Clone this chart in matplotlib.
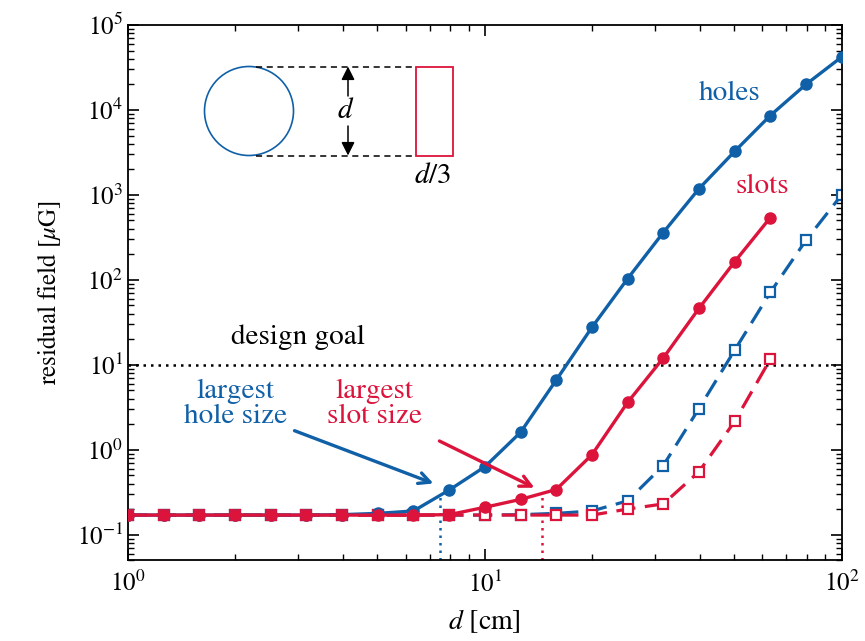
import numpy as np
import matplotlib
matplotlib.use("Agg")
import matplotlib.pyplot as plt
from matplotlib.patches import Circle, Rectangle, FancyArrowPatch
from matplotlib.lines import Line2D
from matplotlib.transforms import IdentityTransform

plt.rcParams['font.family'] = ['STIXGeneral', 'DejaVu Serif']
plt.rcParams['mathtext.fontset'] = 'stix'

BLUE = '#1060a8'
RED = '#dc143c'

d = [1.0, 1.259, 1.585, 1.995, 2.512, 3.162, 3.981, 5.012, 6.310, 7.943,
     10.0, 12.59, 15.85, 19.95, 25.12, 31.62, 39.81, 50.12, 63.10, 79.43, 100.0]

holes = [0.17, 0.17, 0.17, 0.17, 0.17, 0.17, 0.172, 0.178, 0.19, 0.335,
         0.63, 1.6, 6.6, 27.5, 103, 360, 1180, 3250, 8600, 20000, 42000]
slots = [0.17, 0.17, 0.17, 0.17, 0.17, 0.17, 0.17, 0.17, 0.17, 0.172,
         0.21, 0.26, 0.34, 0.87, 3.6, 12, 46, 163, 540]
holes_thick = [0.17, 0.17, 0.17, 0.17, 0.17, 0.17, 0.17, 0.17, 0.17, 0.17,
               0.17, 0.172, 0.178, 0.19, 0.25, 0.65, 3.05, 14.8, 71, 292, 1000]
slots_thick = [0.17, 0.17, 0.17, 0.17, 0.17, 0.17, 0.17, 0.17, 0.17, 0.17,
               0.17, 0.17, 0.17, 0.17, 0.20, 0.23, 0.55, 2.15, 11.6]

design_goal = 10
largest_hole = 7.5
largest_slot = 14.5

W, H = 865, 641
fig = plt.figure(figsize=(W / 100, H / 100), dpi=100)
ax = fig.add_axes([0.148, 0.126, 0.825, 0.835])
ax.set_xscale('log')
ax.set_yscale('log')
ax.set_xlim(1, 100)
ax.set_ylim(0.05, 1e5)

dash = (0, (6, 3))
ax.plot(d[:len(holes_thick)], holes_thick, color=BLUE, lw=2.3, linestyle=dash,
        marker='s', ms=6.5, mfc='white', mec=BLUE, mew=1.6, zorder=2)
ax.plot(d[:len(slots_thick)], slots_thick, color=RED, lw=2.3, linestyle=dash,
        marker='s', ms=6.5, mfc='white', mec=RED, mew=1.6, zorder=2.1)
ax.plot(d[:len(holes)], holes, color=BLUE, lw=2.4, marker='o', ms=8, zorder=3)
ax.plot(d[:len(slots)], slots, color=RED, lw=2.4, marker='o', ms=8, zorder=3.1)

ax.axhline(design_goal, color='black', ls=(0, (1, 2)), lw=1.8, zorder=1)
ax.text(3.0, 21, 'design goal', fontsize=21, ha='center', va='center')

ax.plot([largest_hole, largest_hole], [0.05, 0.3], color=BLUE, ls=(0, (1, 2)), lw=1.8, zorder=1)
ax.plot([largest_slot, largest_slot], [0.05, 0.3], color=RED, ls=(0, (1, 2)), lw=1.8, zorder=1)

ax.text(2.0, 3.5, 'largest\nhole size', color=BLUE, fontsize=21, ha='center',
        va='center', linespacing=1.0)
ax.text(4.92, 3.5, 'largest\nslot size', color=RED, fontsize=21, ha='center',
        va='center', linespacing=1.0)
ax.annotate('', xy=(7.3, 0.39), xytext=(2.88, 1.72),
            arrowprops=dict(arrowstyle='->,head_length=0.8,head_width=0.4',
                            color=BLUE, lw=2.4))
ax.annotate('', xy=(14.0, 0.345), xytext=(7.34, 1.31),
            arrowprops=dict(arrowstyle='->,head_length=0.8,head_width=0.4',
                            color=RED, lw=2.4))

ax.text(48.6, 15800, 'holes', color=BLUE, fontsize=21, ha='center', va='center')
ax.text(60, 1260, 'slots', color=RED, fontsize=21, ha='center', va='center')

ax.set_xlabel(r'$d$ [cm]', fontsize=20, labelpad=7)
ax.set_ylabel(r'residual field [$\mu$G]', fontsize=18, labelpad=10)
ax.tick_params(which='both', direction='in', top=True, right=True, labelsize=18)
ax.tick_params(which='major', length=8, width=1.2)
ax.tick_params(which='minor', length=4, width=1)
ax.tick_params(axis='x', pad=8)
for s in ax.spines.values():
    s.set_linewidth(1.3)

# inset schematic, in pixel coordinates measured from the top-left corner
T = IdentityTransform()
def P(x, y):
    return (x, H - y)

fig.add_artist(Circle(P(249, 111), 44.5, fill=False, ec=BLUE, lw=1.2, transform=T))
fig.add_artist(Rectangle(P(416, 155.5), 37, 89, fill=False, ec=RED, lw=1.3, transform=T))
for yy in (66.5, 155.5):
    x0, y0 = P(256, yy)
    x1, y1 = P(416, yy)
    fig.add_artist(Line2D([x0, x1], [y0, y1], color='black', ls=(0, (4, 3)), lw=1.1, transform=T))
fig.add_artist(FancyArrowPatch(P(348, 96), P(348, 66.5), transform=T,
                               arrowstyle='-|>,head_length=8,head_width=4',
                               color='black', lw=1.1, shrinkA=0, shrinkB=0))
fig.add_artist(FancyArrowPatch(P(348, 126), P(348, 155.5), transform=T,
                               arrowstyle='-|>,head_length=8,head_width=4',
                               color='black', lw=1.1, shrinkA=0, shrinkB=0))
fig.text(346 / W, 1 - 111 / H, r'$d$', fontsize=21, ha='center', va='center')
fig.text(433 / W, 1 - 176 / H, r'$d/3$', fontsize=21, ha='center', va='center')

fig.savefig('out.png', dpi=100)
